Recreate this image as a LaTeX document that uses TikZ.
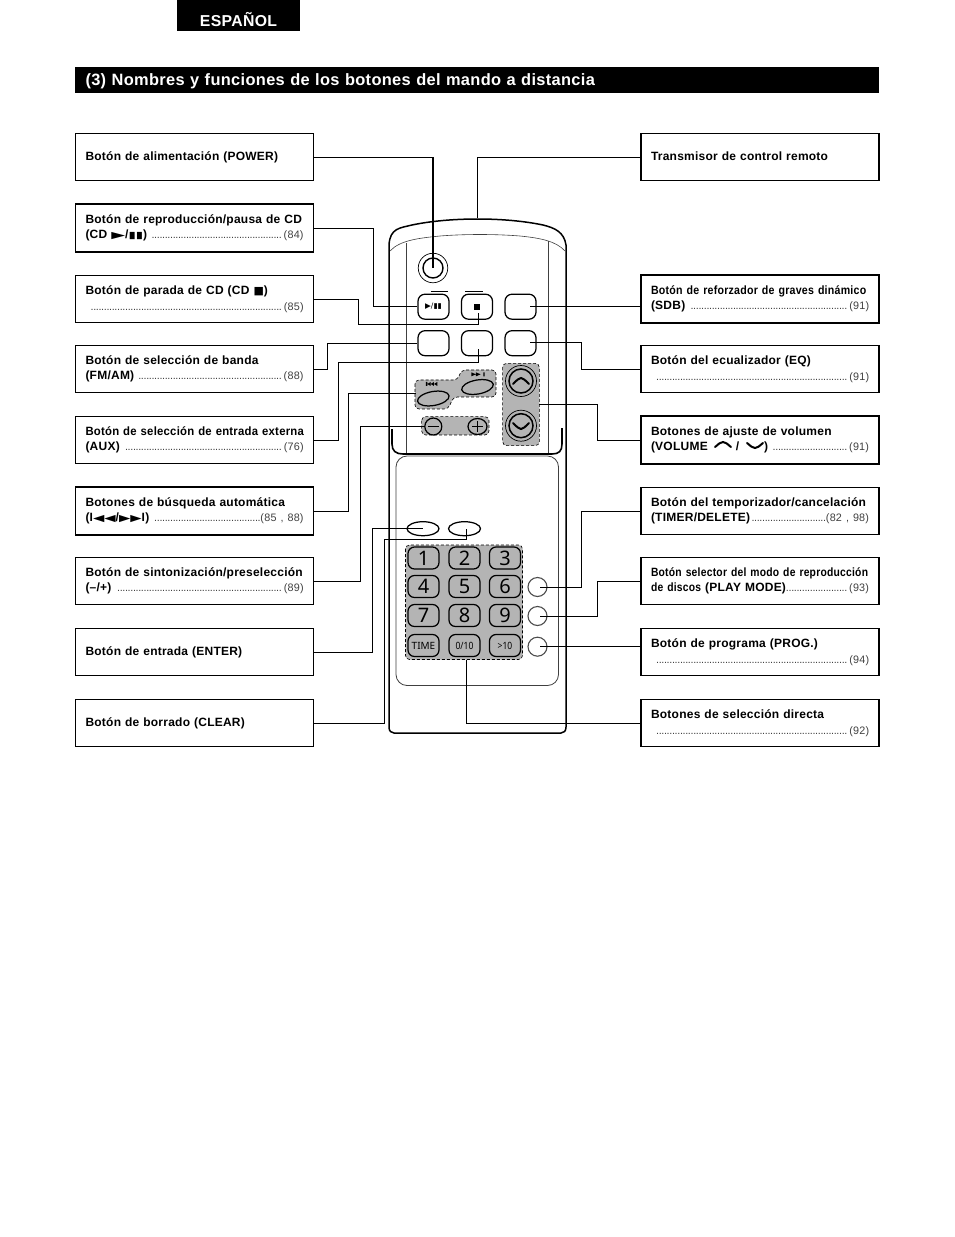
\documentclass[tikz,border=0pt]{standalone}
\usepackage{graphicx}
\usepackage{fontspec}
\setmainfont{Liberation Sans}[LetterSpace=2]
\newfontfamily\cnd[FakeStretch=0.86,LetterSpace=2]{Liberation Sans}
\newfontfamily\cnf[FakeStretch=0.885,LetterSpace=2]{Liberation Sans}
\newfontfamily\cne[FakeStretch=0.945,LetterSpace=2]{Liberation Sans}
\newfontfamily\sym{DejaVu Sans}
\newfontfamily\keyf{Noto Sans}
\newfontfamily\keyc[FakeStretch=0.85]{Noto Sans}
\definecolor{gp}{HTML}{B4B4B4}
\newcommand{\lfn}{\fontsize{12}{15.5}\selectfont\bfseries}
\newcommand{\rf}[1]{\mdseries\fontsize{10.8}{15.5}\selectfont\color{black!75}\leaders\hbox to 2.65pt{\hss.\hss}\hfill #1}
\newcommand{\dl}[2]{\hbox to 218pt{#1\rf{#2}}}
\newcommand{\cd}{\scalebox{1.55}[1]{\sym\fontsize{9.5}{10}\selectfont ▶}}
\newcommand{\cb}{\scalebox{1.55}[1]{\sym\fontsize{9.5}{10}\selectfont ◀}}
\newcommand{\cp}{\scalebox{1.9}[1]{\sym\fontsize{9.5}{10}\selectfont ▶}}
\newcommand{\cbar}{\scalebox{1.4}[1]{\sym\fontsize{9.5}{10}\selectfont ▮▮}}
\usetikzlibrary{shapes.geometric}
\tikzset{
 lbox/.style={draw,line width=1.3pt,minimum width=238pt,minimum height=47.5pt,text width=218pt,align=left,inner sep=0pt,font=\lfn},
 hbox/.style={lbox,line width=1.9pt},
 conn/.style={line width=1pt,line join=miter},
 btn/.style={draw,line width=1.25pt,rounded corners=7pt,minimum width=31pt,minimum height=25pt,inner sep=0pt,fill=white},
 key/.style={draw,line width=1.25pt,rounded corners=6.5pt,minimum width=31pt,minimum height=22pt,inner sep=0pt,fill=gp,font=\keyf\fontsize{20}{20}\selectfont},
 grp/.style={draw,densely dashed,line width=.6pt,fill=gp,rounded corners=4pt},
 oval/.style={draw,ellipse,line width=1.25pt,inner sep=0pt},
 rnd/.style={draw,circle,line width=1.1pt,inner sep=0pt},
 body/.style={line width=1.5pt},
 thin body/.style={line width=.6pt,draw=black!75},
 chev/.style={line width=2pt,line cap=round},
}
\begin{document}
\begin{tikzpicture}[x=1pt,y=-1pt]
\useasboundingbox (0,0) rectangle (954,1237);
\fill[white] (0,0) rectangle (954,1237);
% headers
\node[fill=black,text=white,minimum width=123pt,minimum height=31pt,inner sep=0pt,text height=21.5pt,text depth=0pt,font=\bfseries\fontsize{15.8}{16}\selectfont] (lang) at (238.5,15.5) {ESPAÑOL};
\node[fill=black,text=white,minimum width=804pt,minimum height=26pt,inner sep=0pt,text width=783pt,align=left,text height=10.5pt,text depth=0pt,font=\bfseries\fontsize{16.4}{17}\selectfont] (title) at (477,80) {(3) Nombres y funciones de los botones del mando a distancia};
% left boxes
\node[lbox] (l1) at (194.5,157) {Botón de alimentación (POWER)};
\node[hbox] (l2) at (194.5,228) {Botón de reproducción/pausa de CD\\\dl{(CD \cp/\cbar) }{(84)}};
\node[lbox] (l3) at (194.5,299) {Botón de parada de CD (CD {\sym\fontsize{11}{10}\selectfont ■})\\\dl{\hspace{3pt}}{(85)}};
\node[lbox] (l4) at (194.5,369) {Botón de selección de banda\\\dl{(FM/AM) }{(88)}};
\node[lbox] (l5) at (194.5,440) {\mbox{\cne Botón de selección de entrada externa}\\\dl{(AUX) }{(76)}};
\node[hbox] (l6) at (194.5,511) {Botones de búsqueda automática\\\dl{(I\cb\cb/\cd\cd I) }{(85 , 88)}};
\node[lbox] (l7) at (194.5,581) {\mbox{Botón de sintonización/preselección}\\\dl{(–/+) }{(89)}};
\node[lbox] (l8) at (194.5,652) {Botón de entrada (ENTER)};
\node[lbox] (l9) at (194.5,723) {\raisebox{1pt}{Botón de borrado (CLEAR)}};
% right boxes
\node[lbox] (r1) at (760,157) {\raisebox{1pt}{Transmisor de control remoto}};
\node[hbox] (r2) at (760,299) {\mbox{\cnf Botón de reforzador de graves dinámico}\\\dl{(SDB) }{(91)}};
\node[lbox] (r3) at (760,369) {Botón del ecualizador (EQ)\\\dl{\hspace{3pt}}{(91)}};
\node[hbox] (r4) at (760,440) {Botones de ajuste de volumen\\\dl{(VOLUME\hspace{28pt}/\hspace{25pt}) }{(91)}};
\node[lbox] (r5) at (760,511) {\mbox{Botón del temporizador/cancelación}\\\dl{(TIMER/DELETE)}{(82 , 98)}};
\node[lbox] (r6) at (760,581) {\mbox{\cnd Botón selector del modo de reproducción}\\\dl{{\cnd de discos} (PLAY MODE)}{(93)}};
\node[lbox] (r7) at (760,652) {Botón de programa (PROG.)\\\dl{\hspace{3pt}}{(94)}};
\node[lbox] (r8) at (760,723) {Botones de selección directa\\\dl{\hspace{3pt}}{(92)}};
\draw[line width=2pt,line cap=round] (715,447) .. controls (719,444) and (720,442) .. (723,442) .. controls (726,442) and (727,444) .. (731,447);
\draw[line width=2pt,line cap=round] (747,443) .. controls (751,446) and (752,448) .. (755,448) .. controls (758,448) and (759,446) .. (763,443);
% remote body
\draw[body] (389,727) -- (389,245) .. controls (390,228) and (400,228) .. (412,225) .. controls (450,217) and (505,217) .. (543,225) .. controls (555,228) and (564,232) .. (566,245) -- (566,727) .. controls (566,731) and (564,733) .. (561,733) -- (394,733) .. controls (391,733) and (389,731) .. (389,727) -- cycle;
\draw[thin body] (390,251) .. controls (400,240) and (420,238) .. (440,236) .. controls (465,234) and (495,234) .. (520,236) .. controls (540,238) and (556,241) .. (565,251);
\draw[thin body] (406,243) -- (406,454);
\draw[thin body] (548,241) -- (548,454);
\draw[line width=1.6pt] (392,429) -- (392,444) .. controls (392,451) and (396,454) .. (403,454) -- (552,454) .. controls (559,454) and (562,451) .. (562,444) -- (562,428);
\draw[thin body,line width=.8pt,rounded corners=11pt] (396,456) rectangle (558.5,685.5);
% gray groups
\begin{scope}[shift={(370,200)},x=.3333pt,y=-.3333pt]
\draw[grp] (135,540) -- (135,627) -- (235,627) -- (250,591) -- (378,591) -- (378,510) -- (275,510) -- (262,540) -- cycle;
\draw[grp] (155,650) rectangle (357,705);
\draw[grp] (398,490) rectangle (508,737);
\end{scope}
\draw[grp] (405.5,545) rectangle (522.5,659.5);
% power
\node[rnd,minimum size=29.5pt,line width=.7pt] (pw2) at (433,268) {};
\node[rnd,minimum size=20pt,line width=1.4pt] (pw) at (433,268) {};
% row buttons
\node[btn,font=\sym\fontsize{7.5}{8}\selectfont] (play) at (433.5,306.7) {▶/▮▮};
\node[btn] (stop) at (477,306.7) {};
\node[btn] (sdb) at (520.5,306.7) {};
\node[btn] (band) at (433.5,343.2) {};
\node[btn] (aux) at (477,343.2) {};
\node[btn] (eq) at (520.5,343.2) {};
\fill (474,304) rectangle (480,310);
\draw[line width=.7pt] (430.7,291) -- (447.7,291) (465,291) -- (482.7,291);
% seek
\node[oval,minimum width=32pt,minimum height=14pt,rotate=10] (prev) at (433.3,398.5) {};
\node[oval,minimum width=32pt,minimum height=14pt,rotate=10] (next) at (477.5,387) {};
\begin{scope}[shift={(370,200)},x=.3333pt,y=-.3333pt]
\fill (168,546) rectangle (172,558) (172,552) -- (182,546) -- (182,558) -- cycle (182,552) -- (192,546) -- (192,558) -- cycle (192,552) -- (202,546) -- (202,558) -- cycle;
\fill (304,517) -- (318,523) -- (304,529) -- cycle (318,517) -- (332,523) -- (318,529) -- cycle (340,517) rectangle (344,529);
\end{scope}
% tuning
\node[oval,minimum width=17pt,minimum height=17pt] (minus) at (433.3,426.5) {};
\node[oval,minimum width=19pt,minimum height=16pt] (plus) at (477.5,426.5) {};
\draw[line width=.8pt] (428,426.5) -- (438.5,426.5) (472,426.5) -- (483,426.5) (477.5,421) -- (477.5,432);
% volume
\node[rnd,minimum size=31pt,line width=.7pt] (vup2) at (521,381) {};
\node[rnd,minimum size=24pt,line width=1.5pt] (vup) at (521,381) {};
\node[rnd,minimum size=31pt,line width=.7pt] (vdn2) at (521,425.7) {};
\node[rnd,minimum size=24pt,line width=1.5pt] (vdn) at (521,425.7) {};
\draw[chev] (513,384) .. controls (517,380) and (519,378) .. (521,378) .. controls (523,378) and (525,380) .. (529,384);
\draw[chev] (513,423) .. controls (517,427) and (519,429) .. (521,429) .. controls (523,429) and (525,427) .. (529,423);
% enter clear
\node[oval,minimum width=32pt,minimum height=14pt] (ent) at (423,528.7) {};
\node[oval,minimum width=32pt,minimum height=14pt] (clr) at (464.5,528.7) {};
% keypad
\node[key] (k1) at (423.5,558) {1};
\node[key] (k2) at (464.5,558) {2};
\node[key] (k3) at (505,558) {3};
\node[key] (k4) at (423.5,586.5) {4};
\node[key] (k5) at (464.5,586.5) {5};
\node[key] (k6) at (505,586.5) {6};
\node[key] (k7) at (423.5,615.5) {7};
\node[key] (k8) at (464.5,615.5) {8};
\node[key] (k9) at (505,615.5) {9};
\node[key,font=\keyf\fontsize{10}{10}\selectfont] (kt) at (423.5,645.5) {TIME};
\node[key,font=\keyc\fontsize{10}{10}\selectfont] (k0) at (464.5,645.5) {0/10};
\node[key,font=\keyc\fontsize{10}{10}\selectfont] (kg) at (505,645.5) {>10};
\node[rnd,minimum size=19pt,draw=black!70] (tm) at (537.5,587) {};
\node[rnd,minimum size=19pt,draw=black!70] (pm) at (537.5,616) {};
\node[rnd,minimum size=19pt,draw=black!70] (pr) at (537.5,646.7) {};
% connector free ends
\coordinate (ptop) at (477,218);
\coordinate (pstop) at (478,313);
\coordinate (paux) at (478,349);
\coordinate (pprev) at (416,393);
\coordinate (pclr) at (466.5,529);
\coordinate (psdb) at (530,306.7);
\coordinate (peq) at (530,342.5);
\coordinate (pvol) at (539,404);
\coordinate (ptm) at (540,587);
\coordinate (ppm) at (540,616);
\coordinate (ppr) at (540,646.7);
\coordinate (pdir) at (466.5,660);
% connectors
\draw[conn] (l1.east) -| (pw.center);
\draw[line width=1.7pt] (l1.east -| pw.center) -- (pw.center);
\draw[conn] (r1.west) -| (ptop);
\draw[conn] (l2.east) -| (373,306.7) -- (play.west);
\draw[conn] (l3.east) -| (358,324) -| (pstop);
\draw[conn] (l4.east) -| (327,343.2) -- (band.west);
\draw[conn] (l5.east) -| (338,362) -| (paux);
\draw[conn] (l6.east) -| (348,393) -- (pprev);
\draw[conn] (l7.east) -| (360,426.5) -- (minus.west);
\draw[conn] (l8.east) -| (372,528.7) -- (ent.center);
\draw[conn] (l9.east) -| (384.5,539) -| (pclr);
\draw[conn] (r2.west |- psdb) -- (psdb);
\draw[conn] (r3.west) -| (581.5,342.5) -- (peq);
\draw[conn] (r4.west) -| (597,404) -- (pvol);
\draw[conn] (r5.west) -| (581.5,587) -- (ptm);
\draw[conn] (r6.west) -| (597,616) -- (ppm);
\draw[conn] (r7.west |- ppr) -- (ppr);
\draw[conn] (r8.west) -| (pdir);
\end{tikzpicture}
\end{document}
